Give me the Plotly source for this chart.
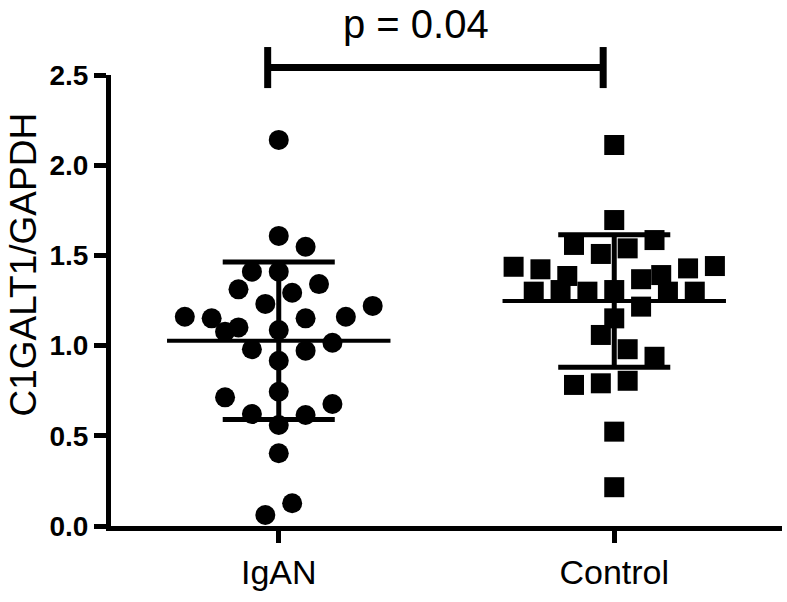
import plotly.graph_objects as go

# C1GALT1/GAPDH expression, values
groups = ["IgAN", "Control"]

igan_values = [2.140, 1.608, 1.548, 1.410, 1.410, 1.312, 1.341, 1.293, 1.231, 1.160,
               1.151, 1.151, 1.160, 1.220, 1.077, 1.101, 1.086, 1.016, 0.980, 0.972,
               0.916, 0.744, 0.713, 0.676, 0.621, 0.615, 0.560, 0.403, 0.126, 0.061]
# column-scatter slot of each point (beeswarm spreading)
igan_slots = [0, 0, 2, -2, 0, -3, 3, 1, -1, -7,
              -5, 2, 5, 7, -4, -3, 0, 4, -2, 2,
              0, 0, -4, 4, -2, 2, 0, 0, 1, -1]

control_values = [2.112, 1.696, 1.585, 1.558, 1.508, 1.539, 1.437, 1.423, 1.386, 1.428,
                  1.441, 1.391, 1.368, 1.299, 1.308, 1.299, 1.308, 1.299, 1.299, 1.216,
                  1.151, 1.059, 0.980, 0.938, 0.782, 0.791, 0.805, 0.523, 0.215]
control_slots = [0, 0, 3, -3, -1, 1, -7.5, -5.5, -3.5, 5.5,
                 7.5, 3.5, 2, -6, -4, -2, 0, 4, 6, 2,
                 0, -1, 1, 3, -3, -1, 1, 0, 0]

# mean and SD as drawn
means = [1.027, 1.247]
sds = [0.436, 0.367]

p_text = "p = 0.04"

slot_w = 0.04
font = "Liberation Sans, Arial, sans-serif"

fig = go.Figure()

for i, (vals, slots, sym) in enumerate([(igan_values, igan_slots, "circle"),
                                        (control_values, control_slots, "square")]):
    xc = i + 1
    fig.add_trace(go.Scatter(
        x=[xc + s * slot_w for s in slots], y=vals, mode="markers",
        marker=dict(symbol=sym, size=20, color="black", line=dict(width=0)),
        cliponaxis=False, showlegend=False))
    # mean line
    fig.add_trace(go.Scatter(x=[xc - 0.333, xc + 0.333], y=[means[i], means[i]],
                             mode="lines", line=dict(color="black", width=4),
                             showlegend=False))
    # SD whisker
    lo, hi = means[i] - sds[i], means[i] + sds[i]
    fig.add_trace(go.Scatter(x=[xc, xc], y=[lo, hi], mode="lines",
                             line=dict(color="black", width=5), showlegend=False))
    for v in (lo, hi):
        fig.add_trace(go.Scatter(x=[xc - 0.167, xc + 0.167], y=[v, v], mode="lines",
                                 line=dict(color="black", width=5), showlegend=False))

# significance bracket
bx0, bx1 = 0.967, 1.967
fig.add_shape(type="line", xref="x", yref="paper", x0=bx0, x1=bx1, y0=1.0166, y1=1.0166,
              line=dict(color="black", width=7))
for bx in (bx0, bx1):
    fig.add_shape(type="line", xref="x", yref="paper", x0=bx, x1=bx, y0=0.971, y1=1.062,
                  line=dict(color="black", width=7))
fig.add_annotation(text=p_text, xref="x", yref="paper", x=1.41, y=1.113,
                   yanchor="middle", showarrow=False,
                   font=dict(family=font, size=40, color="black"))

fig.add_annotation(text="C1GALT1/GAPDH", xref="paper", yref="paper", x=-0.131, y=0.58,
                   textangle=-90, showarrow=False, xanchor="center", yanchor="middle",
                   font=dict(family=font, size=37, color="black"))

fig.update_xaxes(range=[0.5, 2.5], tickmode="array", tickvals=[1, 2], ticktext=groups,
                 showline=True, linecolor="black", linewidth=5, ticks="outside",
                 ticklen=12, tickwidth=5, tickcolor="black", showgrid=False,
                 zeroline=False, tickfont=dict(family=font, size=34, color="black"))
fig.update_yaxes(range=[0, 2.5], tickvals=[0, 0.5, 1.0, 1.5, 2.0, 2.5],
                 ticktext=["<b>0.0</b>", "<b>0.5</b>", "<b>1.0</b>", "<b>1.5</b>",
                           "<b>2.0</b>", "<b>2.5</b>"],
                 showline=True, linecolor="black", linewidth=5, ticks="outside",
                 ticklen=12, tickwidth=5, tickcolor="black", showgrid=False,
                 zeroline=False, tickfont=dict(family=font, size=28, color="black"))

fig.update_layout(width=787, height=602, margin=dict(l=111, r=5, t=75, b=76),
                  plot_bgcolor="white", paper_bgcolor="white")

# drop the default 8px body margin so the figure fills the window
fig.write_html("out.html", config={"displayModeBar": False},
               post_script="document.body.style.margin='0';")
